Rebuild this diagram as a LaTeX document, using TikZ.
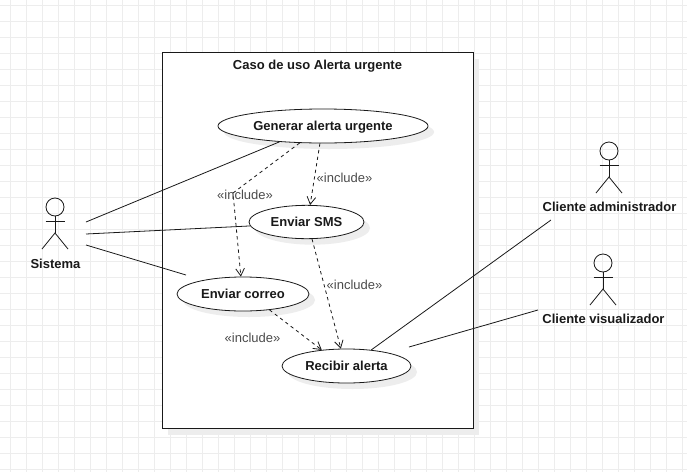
\documentclass[tikz,border=0pt]{standalone}
\usepackage{fontspec}
\setmainfont{Liberation Sans}
\usetikzlibrary{arrows.meta,shapes.geometric,shadows}

\tikzset{
	gridline/.style={draw=black!7, line width=0.75pt},
	plainline/.style={draw=black!90, line width=0.6pt},
	includeline/.style={plainline, dashed, dash pattern=on 2.5pt off 2.5pt, -{Straight Barb[length=5.5pt,width=6.5pt]}},
	includelabel/.style={text=black!70, font=\fontsize{9.75}{11}\selectfont, text height=9.2pt, text depth=2pt},
	boldlabel/.style={text=black!90, font=\fontsize{9.75}{11}\selectfont\bfseries, text height=9.2pt, text depth=2pt},
	softshadow/.style={drop shadow={shadow xshift=4.5pt, shadow yshift=-4.5pt, fill=black!7, opacity=1}},
	usecase/.style={ellipse, draw=black!90, line width=0.6pt, fill=white, softshadow, inner sep=0pt, boldlabel},
	boundary/.style={rectangle, draw=black!90, line width=0.75pt, fill=white, softshadow, minimum width=233.25pt, minimum height=282pt},
	actor/.pic={
		\draw[plainline] (0,-26) circle (9);
		\draw[plainline] (0,-17) -- (0,0);
		\draw[plainline] (-9.5,-12) -- (9.5,-12);
		\draw[plainline] (-13,16) -- (0,0) -- (13,16);
	}
}

\begin{document}
\begin{tikzpicture}[x=0.75pt, y=-0.75pt]
	\useasboundingbox (0,0) rectangle (687,472);
	\fill[white] (0,0) rectangle (687,472);
	% background grid
	\foreach \i in {0,...,42} {
		\draw[gridline] (10.5+16*\i,0) -- (10.5+16*\i,472);
	}
	\foreach \j in {0,...,29} {
		\draw[gridline] (0,5+16*\j) -- (687,5+16*\j);
	}

	\node[boundary] (frame) at (317.5,240.8) {};
	\node[boldlabel] (title) at (317.5,65) {Caso de uso Alerta urgente};

	\node[usecase, minimum width=157.5pt, minimum height=25.5pt] (generar) at (323,126) {Generar alerta urgente};
	\node[usecase, minimum width=86.25pt, minimum height=25pt] (sms) at (306.5,222) {Enviar SMS};
	\node[usecase, minimum width=99pt, minimum height=25.5pt] (correo) at (243,294) {Enviar correo};
	\node[usecase, minimum width=96.75pt, minimum height=25.5pt] (recibir) at (346.5,366) {Recibir alerta};

	% actors
	\pic at (55,233) {actor};
	\pic at (609,177) {actor};
	\pic at (603,289) {actor};
	\node[boldlabel] (sistema) at (55.5,264) {Sistema};
	\node[boldlabel] (admin) at (609.5,207) {Cliente administrador};
	\node[boldlabel] (visual) at (603.5,319) {Cliente visualizador};

	% free ends next to the actors
	\coordinate (sistemaA) at (86,222);
	\coordinate (sistemaB) at (86,234);
	\coordinate (sistemaC) at (86,245);
	\coordinate (correoend) at (186,275);
	\coordinate (adminend) at (551,220);
	\coordinate (visualend) at (538,310);
	\coordinate (recibirend) at (409,347);
	\coordinate (bend) at (233,193);

	\draw[plainline] (sistemaA) -- (generar.-160);
	\draw[plainline] (sistemaB) -- (sms.184);
	\draw[plainline] (sistemaC) -- (correoend);
	\draw[plainline] (recibir.33) -- (adminend);
	\draw[plainline] (recibirend) -- (visualend);

	\draw[includeline] (generar.-144) -- (bend) -- (correo.97);
	\draw[includeline] (generar.-100) -- (sms.78);
	\draw[includeline] (sms.-72) -- (recibir.108);
	\draw[includeline] (correo.-31) -- (recibir.147);

	\node[includelabel] (inca) at (245,195) {«include»};
	\node[includelabel] (incb) at (344.5,177.5) {«include»};
	\node[includelabel] (incc) at (354.5,285) {«include»};
	\node[includelabel] (incd) at (252.5,338) {«include»};
\end{tikzpicture}
\end{document}
